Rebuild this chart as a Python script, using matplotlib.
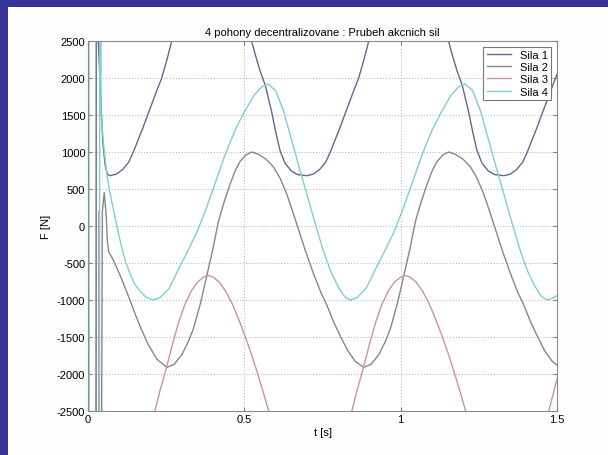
import matplotlib.pyplot as plt
from matplotlib.patches import Rectangle

plt.rcParams['font.family'] = ['Liberation Sans', 'DejaVu Sans']
plt.rcParams['axes.unicode_minus'] = False

labels = ['Sila 1', 'Sila 2', 'Sila 3', 'Sila 4']
colors = ['#66668f', '#8c8585', '#c99595', '#7fcfcf']

# Sila 1 (above 2500 estimated)
t1 = [0.000, 0.025, 0.027, 0.033, 0.040, 0.047, 0.055, 0.062, 0.070,
      0.090, 0.110, 0.130, 0.145, 0.160, 0.175, 0.190, 0.205, 0.220, 0.235,
      0.250, 0.268, 0.290, 0.320, 0.360, 0.400, 0.440, 0.470, 0.500, 0.523,
      0.536, 0.550, 0.567, 0.587, 0.600, 0.614, 0.630, 0.650, 0.670, 0.700,
      0.720, 0.740, 0.760, 0.775, 0.790, 0.805, 0.820, 0.835, 0.850, 0.865,
      0.880, 0.898, 0.920, 0.950, 0.990, 1.030, 1.070, 1.100, 1.130, 1.153,
      1.166, 1.180, 1.197, 1.217, 1.230, 1.244, 1.260, 1.280, 1.300, 1.330,
      1.350, 1.370, 1.390, 1.405, 1.420, 1.435, 1.450, 1.465, 1.480, 1.500]
f1 = [-9000, -9000, 9000, 2500, 1800, 1150, 820, 700, 680,
      700, 760, 860, 1000, 1160, 1320, 1490, 1660, 1830, 1990,
      2210, 2500, 2790, 3100, 3300, 3350, 3250, 3100, 2850, 2500,
      2300, 2100, 1900, 1550, 1280, 1020, 850, 745, 695, 680,
      700, 760, 860, 1000, 1160, 1320, 1490, 1660, 1830, 1990,
      2210, 2500, 2790, 3100, 3300, 3350, 3250, 3100, 2850, 2500,
      2300, 2100, 1900, 1550, 1280, 1020, 850, 745, 695, 680,
      700, 760, 860, 1000, 1160, 1320, 1490, 1660, 1830, 2050]

# Sila 2
t2 = [0.000, 0.003, 0.038, 0.046, 0.052, 0.058, 0.062, 0.066, 0.080,
      0.100, 0.125, 0.150, 0.166, 0.190, 0.220, 0.252,
      0.275, 0.300, 0.320, 0.337, 0.360, 0.380, 0.400, 0.417, 0.435,
      0.454, 0.470, 0.486, 0.505, 0.523, 0.545, 0.570, 0.593, 0.615,
      0.635, 0.655, 0.672, 0.695, 0.720, 0.745, 0.763, 0.785, 0.806,
      0.830, 0.855, 0.882, 0.905, 0.930, 0.950, 0.967, 0.990, 1.010,
      1.030, 1.047, 1.065, 1.084, 1.100, 1.116, 1.135, 1.153, 1.175,
      1.200, 1.223, 1.245, 1.265, 1.285, 1.302, 1.325, 1.350, 1.375,
      1.393, 1.415, 1.436, 1.460, 1.485, 1.500]
f2 = [9000, -9000, -9000, 200, 450, 150, -200, -350, -450,
      -640, -900, -1180, -1350, -1580, -1800, -1910,
      -1870, -1740, -1570, -1390, -1040, -670, -300, 60, 320,
      560, 740, 870, 960, 1000, 970, 900, 800, 640,
      440, 190, -30, -330, -630, -900, -1060, -1290, -1480,
      -1680, -1830, -1910, -1870, -1740, -1570, -1390, -1040, -670,
      -300, 60, 320, 560, 740, 870, 960, 1000, 970,
      900, 800, 640, 440, 190, -30, -330, -630, -900,
      -1060, -1290, -1480, -1680, -1830, -1880]

# Sila 3 (below -2500 estimated)
t3 = [0.000, 0.034, 0.0355, 0.037, 0.100, 0.160, 0.214,
      0.230, 0.250, 0.270, 0.290, 0.310, 0.330, 0.350, 0.370, 0.385,
      0.400, 0.420, 0.440, 0.460, 0.480, 0.500, 0.520, 0.540, 0.560,
      0.580, 0.620, 0.680, 0.720, 0.770, 0.810, 0.844,
      0.860, 0.880, 0.900, 0.920, 0.940, 0.960, 0.980, 1.000, 1.015,
      1.030, 1.050, 1.070, 1.090, 1.110, 1.130, 1.150, 1.170, 1.190,
      1.210, 1.250, 1.310, 1.350, 1.400, 1.440, 1.474, 1.490, 1.500]
f3 = [-9000, -9000, 200, -9000, -4500, -3300, -2500,
      -2230, -1930, -1600, -1300, -1060, -880, -760, -690, -670,
      -690, -760, -880, -1040, -1240, -1460, -1700, -1960, -2240,
      -2530, -3000, -3500, -3550, -3300, -2950, -2500,
      -2230, -1930, -1600, -1300, -1060, -880, -760, -690, -670,
      -690, -760, -880, -1040, -1240, -1460, -1700, -1960, -2240,
      -2530, -3000, -3500, -3550, -3300, -2950, -2500, -2230, -2070]

# Sila 4
t4 = [0.000, 0.002, 0.004, 0.036, 0.038, 0.042, 0.050, 0.060, 0.070,
      0.080, 0.090, 0.100, 0.110, 0.120, 0.135, 0.150, 0.166, 0.185,
      0.208, 0.230, 0.260, 0.290, 0.320, 0.350, 0.380, 0.410, 0.440,
      0.470, 0.500, 0.530, 0.555, 0.576, 0.600, 0.625, 0.650, 0.675,
      0.700, 0.725, 0.750, 0.775, 0.800, 0.820, 0.838,
      0.860, 0.890, 0.920, 0.950, 0.980, 1.010, 1.040, 1.070, 1.100,
      1.130, 1.160, 1.185, 1.206, 1.230, 1.255, 1.280, 1.305, 1.330,
      1.355, 1.380, 1.405, 1.430, 1.450, 1.468, 1.490, 1.500]
f4 = [0, 9000, -9000, -9000, 9000, 1500, 1100, 700, 450,
      250, 50, -150, -330, -480, -650, -790, -880, -960,
      -1000, -970, -840, -580, -330, -70, 260, 620, 980,
      1290, 1540, 1760, 1880, 1920, 1830, 1560, 1180, 800,
      430, 60, -300, -600, -820, -950, -1000,
      -970, -840, -580, -330, -70, 260, 620, 980, 1290,
      1540, 1760, 1880, 1920, 1830, 1560, 1180, 800, 430,
      60, -300, -600, -820, -950, -1000, -970, -940]

fig = plt.figure(figsize=(6.08, 4.56), dpi=100)
fig.patch.set_facecolor('#33339a')
fig.patches.append(Rectangle((8 / 608, 0), 1, 1 - 8 / 456, transform=fig.transFigure,
                             facecolor='#fdfdfd', edgecolor='none', zorder=-1))

ax = fig.add_axes([88 / 608, 1 - 412 / 456, 469 / 608, 370 / 456])
for t, f, c, lab in zip([t1, t2, t3, t4], [f1, f2, f3, f4], colors, labels):
    ax.plot(t, f, color=c, lw=1.0, label=lab)

ax.set_xlim(0, 1.5)
ax.set_ylim(-2500, 2500)
ax.set_xticks([0, 0.5, 1, 1.5])
ax.set_xticklabels(['0', '0.5', '1', '1.5'])
ax.set_yticks(range(-2500, 2501, 500))
ax.grid(True, color='#b0b0b0', linestyle=(0, (1, 2)), linewidth=0.7)
ax.tick_params(direction='in', length=3, labelsize=8, top=True, right=True,
               color='#777777', pad=2)
for s in ax.spines.values():
    s.set_color('#8a8a8a')
    s.set_linewidth(0.8)

ax.set_title('4 pohony decentralizovane : Prubeh akcnich sil', fontsize=8, pad=4)
ax.set_xlabel('t [s]', fontsize=8, labelpad=2)
ax.set_ylabel('F [N]', fontsize=8, labelpad=4)

leg = ax.legend(loc='upper right', fontsize=8, fancybox=False, framealpha=1,
                edgecolor='#777777', borderpad=0.3, labelspacing=0.2,
                handlelength=2.2, borderaxespad=0.5)
leg.get_frame().set_linewidth(0.8)

plt.savefig('out.png', dpi=100, facecolor=fig.get_facecolor())
